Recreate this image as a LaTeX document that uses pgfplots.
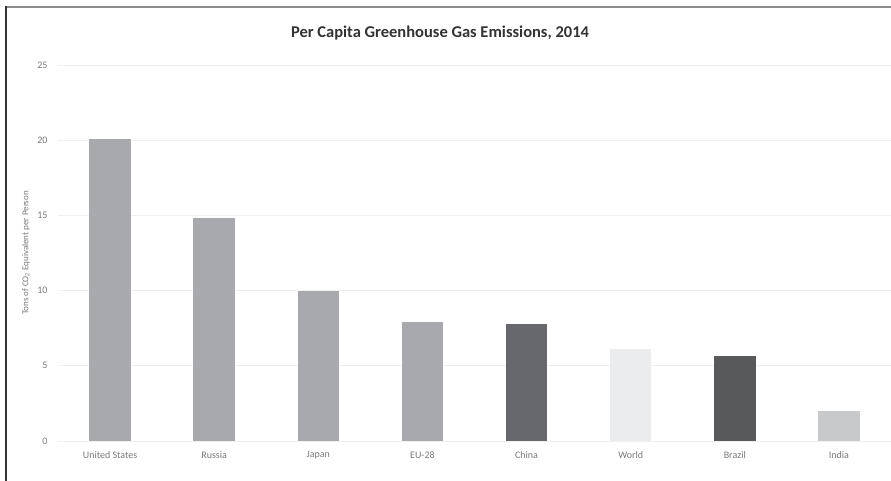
\documentclass[border=0pt]{standalone}
\usepackage{fontspec}
\setmainfont{Carlito}
\usepackage{pgfplots}
\pgfplotsset{compat=1.18}
\definecolor{barA}{HTML}{A8A9AC}
\definecolor{barChina}{HTML}{67686B}
\definecolor{barWorld}{HTML}{EBECED}
\definecolor{barBrazil}{HTML}{58595B}
\definecolor{barIndia}{HTML}{C8C9CB}
\definecolor{ticktext}{HTML}{7A7A7A}
\definecolor{titletext}{HTML}{333333}
\begin{document}
\begin{tikzpicture}
\useasboundingbox (0pt,0pt) rectangle (891pt,481pt);
\fill[white] (0pt,0pt) rectangle (891pt,481pt);
\draw[color=black!45, line width=1.5pt] (5pt,474pt) -- (891pt,474pt);
\draw[color=black!80, line width=1.2pt] (6pt,0pt) -- (6pt,474.75pt);
\node[text=titletext, font=\bfseries\fontsize{16.5}{18}\selectfont] at (440pt,448pt) {Per Capita Greenhouse Gas Emissions, 2014};
\begin{axis}[
  at={(58pt,40pt)}, anchor=south west,
  width=833pt, height=376pt, scale only axis,
  xmin=-0.5, xmax=7.5, ymin=0, ymax=25,
  ytick={0,5,10,15,20,25},
  xtick={0,1,2,3,4,5,6,7},
  xticklabels={United States,Russia,Japan,EU-28,China,World,Brazil,India},
  axis line style={draw=none},
  major tick length=0pt,
  ymajorgrids,
  grid style={color=black!6, line width=0.8pt},
  /pgf/number format/assume math mode=true,
  tick label style={font=\fontsize{10}{11}\selectfont, text=ticktext},
  yticklabel style={xshift=-7pt},
  xticklabel style={yshift=-7pt},
  ylabel={Tons of CO\textsubscript{2} Equivalent per Person},
  ylabel style={at={(axis description cs:-0.0385,0.5)}, anchor=center, font=\fontsize{9}{10}\selectfont, text=ticktext},
  ybar, bar width=41.5pt,
  every axis plot/.append style={draw=none, bar shift=0pt},
]
\addplot[fill=barA] coordinates {(0,20.1)};
\addplot[fill=barA] coordinates {(1,14.8)};
\addplot[fill=barA] coordinates {(2,10.0)};
\addplot[fill=barA] coordinates {(3,7.9)};
\addplot[fill=barChina] coordinates {(4,7.75)};
\addplot[fill=barWorld] coordinates {(5,6.1)};
\addplot[fill=barBrazil] coordinates {(6,5.65)};
\addplot[fill=barIndia] coordinates {(7,2.0)};
\end{axis}
\end{tikzpicture}
\end{document}
